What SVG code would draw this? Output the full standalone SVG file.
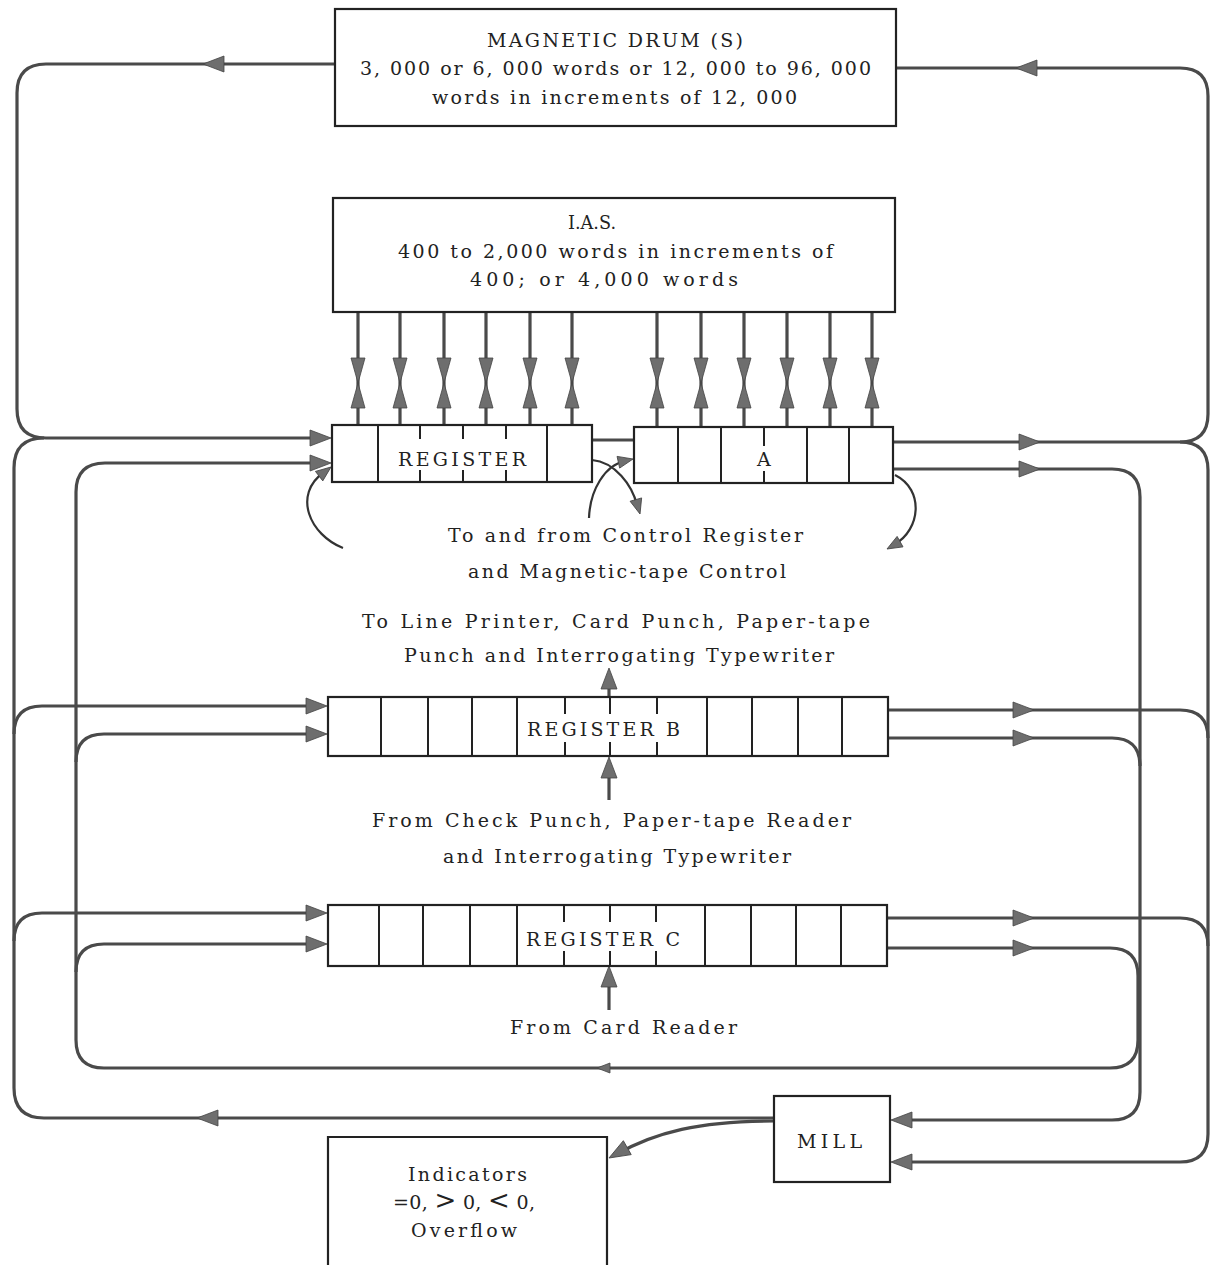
<svg xmlns="http://www.w3.org/2000/svg" xmlns:xlink="http://www.w3.org/1999/xlink" width="1214" height="1265" viewBox="0 0 1214 1265">
<style>
.box{fill:#fff;stroke:#222;stroke-width:2.2}
.div{stroke:#222;stroke-width:2;fill:none}
.wire{fill:none;stroke:#4a4a4a;stroke-width:3.2;stroke-linejoin:round}
.thin{fill:none;stroke:#333;stroke-width:2.2}
.ah{fill:#6e6e6e;stroke:#444;stroke-width:0.8}
.t{font-family:"DejaVu Serif","Liberation Serif",serif;font-size:19px;fill:#222}
</style>
<defs>
<path id="ah" d="M0,0 L-21,-8 L-21,8 Z"/>
<path id="ahs" d="M0,0 L-15,-6 L-15,6 Z"/>
<path id="ahx" d="M0,0 L-13,-5 L-13,5 Z"/>
<path id="bow" d="M-7,-25 L7,-25 L0,0 Z M-7,25 L7,25 L0,0 Z"/>
</defs>
<rect width="1214" height="1265" fill="#fff"/>

<g id="connectors">
<path class="wire" d="M334,64 H46 Q17,64 17,93 V409 Q17,438 46,438 H320"/>
<path class="wire" d="M774,1118 H44 Q14,1118 14,1088 V468 Q14,438 44,438"/>
<path class="wire" d="M14,734 Q14,706 42,706 H316"/>
<path class="wire" d="M14,941 Q14,913 42,913 H316"/>
<path class="wire" d="M887,948 H1110 Q1138,948 1138,976 V1040 Q1138,1068 1110,1068 H104 Q76,1068 76,1040 V492 Q76,463 105,463 H320"/>
<path class="wire" d="M76,762 Q76,734 104,734 H316"/>
<path class="wire" d="M76,972 Q76,944 104,944 H316"/>
<path class="wire" d="M897,68 H1180 Q1208,68 1208,96 V414 Q1208,442 1180,442"/>
<path class="wire" d="M893,442 H1180 Q1208,442 1208,470 V1134 Q1208,1162 1180,1162 H900"/>
<path class="wire" d="M893,469 H1112 Q1140,469 1140,497 V1092 Q1140,1120 1112,1120 H900"/>
<path class="wire" d="M888,710 H1180 Q1208,710 1208,738"/>
<path class="wire" d="M888,738 H1112 Q1140,738 1140,766"/>
<path class="wire" d="M887,918 H1180 Q1208,918 1208,946"/>
<path class="wire" d="M592,440 H634"/>
<path class="wire" d="M774,1121 C 700,1121 655,1132 615,1155"/>
<path class="wire" d="M609,697 V680"/>
<path class="wire" d="M609,800 V770"/>
<path class="wire" d="M609,1010 V978"/>
<g id="ias-links">
<path class="wire" d="M358,312 V425 M400,312 V425 M444,312 V425 M486,312 V425 M530,312 V425 M572,312 V425"/>
<path class="wire" d="M657,312 V427 M701,312 V427 M744,312 V427 M787,312 V427 M830,312 V427 M872,312 V427"/>
</g>
<path class="thin" d="M343,548 C 310,535 292,495 324,472"/>
<path class="thin" d="M592,460 C 615,462 632,485 637,505"/>
<path class="thin" d="M589,518 C 590,490 605,465 625,461"/>
<path class="thin" d="M895,475 C 925,490 920,530 895,544"/>
<g id="arrowheads" class="ah">
<use href="#ah" transform="translate(203,64) rotate(180)"/>
<use href="#ah" transform="translate(1016,68) rotate(180)"/>
<use href="#ah" transform="translate(331,438)"/>
<use href="#ah" transform="translate(331,463)"/>
<use href="#ah" transform="translate(327,706)"/>
<use href="#ah" transform="translate(327,734)"/>
<use href="#ah" transform="translate(327,913)"/>
<use href="#ah" transform="translate(327,944)"/>
<use href="#ah" transform="translate(1040,442)"/>
<use href="#ah" transform="translate(1040,469)"/>
<use href="#ah" transform="translate(1034,710)"/>
<use href="#ah" transform="translate(1034,738)"/>
<use href="#ah" transform="translate(1034,918)"/>
<use href="#ah" transform="translate(1034,948)"/>
<use href="#ah" transform="translate(891,1120) rotate(180)"/>
<use href="#ah" transform="translate(891,1162) rotate(180)"/>
<use href="#ah" transform="translate(197,1118) rotate(180)"/>
<use href="#ahx" transform="translate(597,1068) rotate(180)"/>
<use href="#ah" transform="translate(609,1158) rotate(150.5)"/>
<use href="#ah" transform="translate(609,668) rotate(-90)"/>
<use href="#ah" transform="translate(609,757) rotate(-90)"/>
<use href="#ah" transform="translate(609,966) rotate(-90)"/>
<use href="#ahs" transform="translate(331,467) rotate(-37.6)"/>
<use href="#ahs" transform="translate(640,514) rotate(74)"/>
<use href="#ahs" transform="translate(633,459) rotate(-12.5)"/>
<use href="#ahs" transform="translate(887,549) rotate(150.6)"/>
<use href="#bow" transform="translate(358,383)"/>
<use href="#bow" transform="translate(400,383)"/>
<use href="#bow" transform="translate(444,383)"/>
<use href="#bow" transform="translate(486,383)"/>
<use href="#bow" transform="translate(530,383)"/>
<use href="#bow" transform="translate(572,383)"/>
<use href="#bow" transform="translate(657,383)"/>
<use href="#bow" transform="translate(701,383)"/>
<use href="#bow" transform="translate(744,383)"/>
<use href="#bow" transform="translate(787,383)"/>
<use href="#bow" transform="translate(830,383)"/>
<use href="#bow" transform="translate(872,383)"/>
</g>
</g>

<g id="drum">
<rect class="box" x="335" y="9" width="561" height="117"/>
<text class="t" x="487" y="47" textLength="256" lengthAdjust="spacing">MAGNETIC DRUM (S)</text>
<text class="t" x="360" y="75" textLength="511" lengthAdjust="spacing">3, 000 or 6, 000 words or 12, 000 to 96, 000</text>
<text class="t" x="432" y="104" textLength="365" lengthAdjust="spacing">words in increments of 12, 000</text>
</g>

<g id="ias">
<rect class="box" x="333" y="198" width="562" height="114"/>
<text class="t" x="568" y="229" textLength="48" lengthAdjust="spacingAndGlyphs">I.A.S.</text>
<text class="t" x="398" y="258" textLength="435" lengthAdjust="spacing">400 to 2,000 words in increments of</text>
<text class="t" x="470" y="286" textLength="268" lengthAdjust="spacing">400; or 4,000 words</text>
</g>

<g id="register">
<rect class="box" x="332" y="425" width="260" height="57"/>
<path class="div" d="M378,425 V482 M547,425 V482 M420,425 V439 M463,425 V439 M506,425 V439 M420,470 V482 M463,470 V482 M506,470 V482"/>
<text class="t" x="398" y="466" textLength="128" lengthAdjust="spacing">REGISTER</text>
</g>

<g id="register-a">
<rect class="box" x="634" y="427" width="259" height="56"/>
<path class="div" d="M678,427 V483 M721,427 V483 M807,427 V483 M849,427 V483 M764,427 V446 M764,471 V483"/>
<text class="t" x="757" y="466">A</text>
</g>

<g id="control-label">
<text class="t" x="448" y="542" textLength="355" lengthAdjust="spacing">To and from Control Register</text>
<text class="t" x="468" y="578" textLength="318" lengthAdjust="spacing">and Magnetic-tape Control</text>
</g>

<g id="output-label">
<text class="t" x="362" y="628" textLength="508" lengthAdjust="spacing">To Line Printer, Card Punch, Paper-tape</text>
<text class="t" x="404" y="662" textLength="430" lengthAdjust="spacing">Punch and Interrogating Typewriter</text>
</g>

<g id="register-b">
<rect class="box" x="328" y="697" width="560" height="59"/>
<path class="div" d="M381,697 V756 M428,697 V756 M472,697 V756 M517,697 V756 M707,697 V756 M752,697 V756 M798,697 V756 M842,697 V756 M565,697 V714 M610,697 V714 M657,697 V714 M565,742 V756 M610,742 V756 M657,742 V756"/>
<text class="t" x="527" y="736" textLength="153" lengthAdjust="spacing">REGISTER B</text>
</g>

<g id="input-b-label">
<text class="t" x="372" y="827" textLength="479" lengthAdjust="spacing">From Check Punch, Paper-tape Reader</text>
<text class="t" x="443" y="863" textLength="348" lengthAdjust="spacing">and Interrogating Typewriter</text>
</g>

<g id="register-c">
<rect class="box" x="328" y="905" width="559" height="61"/>
<path class="div" d="M379,905 V966 M423,905 V966 M470,905 V966 M517,905 V966 M705,905 V966 M751,905 V966 M796,905 V966 M841,905 V966 M564,905 V922 M610,905 V922 M656,905 V922 M564,951 V966 M610,951 V966 M656,951 V966"/>
<text class="t" x="526" y="946" textLength="154" lengthAdjust="spacing">REGISTER C</text>
</g>

<g id="card-reader-label">
<text class="t" x="510" y="1034" textLength="227" lengthAdjust="spacing">From Card Reader</text>
</g>

<g id="mill">
<rect class="box" x="774" y="1096" width="116" height="86"/>
<text class="t" x="797" y="1148" textLength="65" lengthAdjust="spacing">MILL</text>
</g>

<g id="indicators">
<path class="box" d="M328,1270 V1137 H607 V1270"/>
<text class="t" x="408" y="1181" textLength="119" lengthAdjust="spacing">Indicators</text>
<text class="t" x="393" y="1209" textLength="142" lengthAdjust="spacing">=0, <tspan font-size="26">&gt;</tspan> 0, <tspan font-size="26">&lt;</tspan> 0,</text>
<text class="t" x="411" y="1237" textLength="106" lengthAdjust="spacing">Overflow</text>
</g>
</svg>
